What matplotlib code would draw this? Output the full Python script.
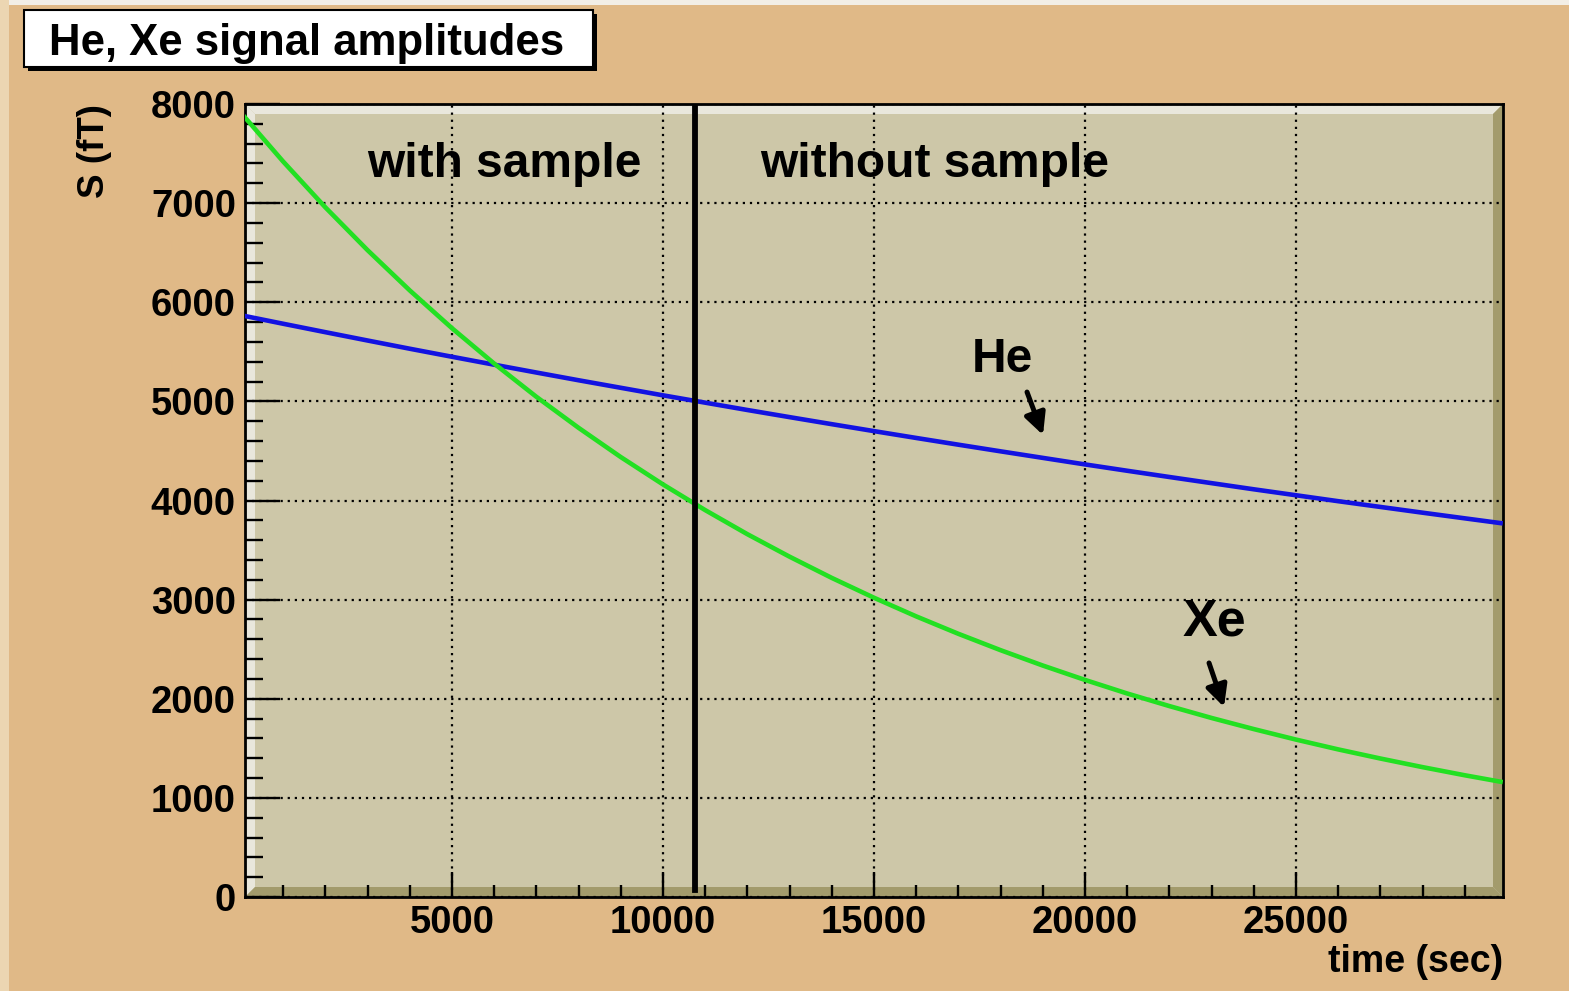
import matplotlib
matplotlib.use("Agg")
import matplotlib.pyplot as plt
from matplotlib.patches import Polygon, Rectangle
from matplotlib.ticker import MultipleLocator

# --- datos ---
tiempo = [0, 1000, 2000, 3000, 4000, 5000, 6000, 7000, 8000, 9000, 10000,
          11000, 12000, 13000, 14000, 15000, 16000, 17000, 18000, 19000, 20000,
          21000, 22000, 23000, 24000, 25000, 26000, 27000, 28000, 29000, 29900]
he = [5869, 5783, 5698, 5614, 5531, 5450, 5370, 5291, 5213, 5137, 5061,
      4987, 4913, 4841, 4770, 4700, 4631, 4563, 4496, 4430, 4364,
      4300, 4237, 4175, 4113, 4053, 3993, 3935, 3877, 3820, 3769]
xe = [7911, 7419, 6957, 6525, 6119, 5738, 5381, 5046, 4733, 4438, 4162,
      3903, 3660, 3433, 3219, 3019, 2831, 2655, 2490, 2335, 2190,
      2053, 1926, 1806, 1694, 1588, 1489, 1397, 1310, 1228, 1159]
t_corte = 10750          # se retira la muestra
x_ticks = [5000, 10000, 15000, 20000, 25000]
y_ticks = [0, 1000, 2000, 3000, 4000, 5000, 6000, 7000, 8000]

BG = "#e0b987"
MARCO = "#cdc7a8"
CLARO = "#e9e7dc"
OSCURO = "#a39b6c"
AZUL = "#1212e2"
VERDE = "#22e022"
FUENTE = "Liberation Sans"

W, H = 1569, 991
fig = plt.figure(figsize=(W / 100, H / 100), dpi=100, facecolor=BG)

# borde claro del lienzo
fig.add_artist(Rectangle((0, 1 - 5 / H), 1, 5 / H, transform=fig.transFigure,
                         color="#f2eee6", lw=0))
fig.add_artist(Rectangle((0, 0), 9 / W, 1, transform=fig.transFigure,
                         color="#ecd6b2", lw=0))

ax = fig.add_axes([245 / W, 1 - 897 / H, 1258 / W, 793 / H])
ax.set_facecolor(MARCO)

# marco en relieve (estilo ROOT)
bx, by = 10 / 1258, 10 / 793
bisel = [
    ([(0, 1), (1, 1), (1 - bx, 1 - by), (bx, 1 - by)], CLARO),
    ([(0, 0), (bx, by), (bx, 1 - by), (0, 1)], CLARO),
    ([(0, 0), (1, 0), (1 - bx, by), (bx, by)], OSCURO),
    ([(1, 0), (1, 1), (1 - bx, 1 - by), (1 - bx, by)], OSCURO),
]
for pts, col in bisel:
    ax.add_patch(Polygon(pts, closed=True, transform=ax.transAxes,
                         facecolor=col, edgecolor="none", zorder=0.2))

ax.plot(tiempo, he, color=AZUL, lw=3.3, zorder=3, solid_capstyle="butt")
ax.plot(tiempo, xe, color=VERDE, lw=3.3, zorder=3, solid_capstyle="butt")
ax.axvline(t_corte, ymin=0.009, ymax=1, color="black", lw=4.2, zorder=4)

ax.set_xlim(95, 29905)
ax.set_ylim(0, 8000)
ax.set_xticks(x_ticks)
ax.set_yticks(y_ticks)
ax.xaxis.set_minor_locator(MultipleLocator(1000))
ax.yaxis.set_minor_locator(MultipleLocator(200))
ax.grid(True, which="major", color="black", lw=1.6, linestyle=(0, (1, 2.2)))

ax.tick_params(axis="both", which="both", direction="in", width=1.7,
               colors="black", labelsize=27.5)
ax.tick_params(axis="x", which="major", length=18, pad=6)
ax.tick_params(axis="x", which="minor", length=9)
ax.tick_params(axis="y", which="major", length=25, pad=6.5)
ax.tick_params(axis="y", which="minor", length=13)
for lab in ax.get_xticklabels() + ax.get_yticklabels():
    lab.set_fontfamily(FUENTE)
    lab.set_fontweight("bold")
for s in ax.spines.values():
    s.set_linewidth(2)
    s.set_color("black")

txt = dict(fontfamily=FUENTE, fontweight="bold", color="black")
ax.text(2986, 7263, "with sample", fontsize=34.5, va="baseline", ha="left", **txt)
ax.text(12299, 7263, "without sample", fontsize=34.5, va="baseline", ha="left", **txt)
ax.text(17322, 5296, "He", fontsize=34.5, va="baseline", ha="left", **txt)
ax.text(22322, 2643, "Xe", fontsize=37.5, va="baseline", ha="left", **txt)

flecha = dict(arrowstyle="-|>", lw=3.6, color="black", mutation_scale=32,
              shrinkA=0, shrinkB=0)
ax.annotate("", xy=(19005, 4661), xytext=(18626, 5094), arrowprops=flecha, zorder=5)
ax.annotate("", xy=(23294, 1917), xytext=(22939, 2361), arrowprops=flecha, zorder=5)

# titulos de ejes
fig.text(1503 / W, 1 - 972 / H, "time (sec)", ha="right", va="baseline",
         fontsize=27, **txt)
fig.text(95 / W, 1 - 104 / H, "S (fT)", ha="center", va="top", rotation=90,
         fontsize=26.5, **txt)

# caja del titulo con sombra
fig.add_artist(Rectangle((28 / W, 1 - 71 / H), 569 / W, 57 / H,
                         transform=fig.transFigure, facecolor="black", lw=0))
fig.add_artist(Rectangle((24 / W, 1 - 67 / H), 569 / W, 57 / H,
                         transform=fig.transFigure, facecolor="white",
                         edgecolor="black", lw=1.5))
fig.text(307 / W, 1 - 55 / H, "He, Xe signal amplitudes", ha="center",
         va="baseline", fontsize=31.5, **txt)

fig.savefig("out.png", dpi=100, facecolor=fig.get_facecolor())
